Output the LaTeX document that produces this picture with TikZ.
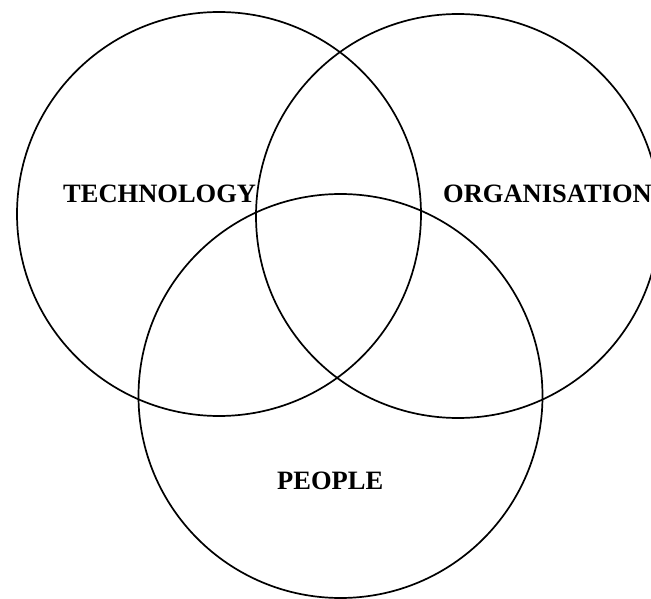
\documentclass[tikz,border=0pt]{standalone}
\usepackage{fontspec}
\setmainfont{Liberation Serif}
\begin{document}
\begin{tikzpicture}[x=1pt,y=-1pt,
  ring/.style={draw=black,line width=1.7pt},
  lbl/.style={anchor=base west,inner sep=0pt,font=\fontsize{26.5}{31}\selectfont\bfseries}]
\useasboundingbox (0,0) rectangle (651,599);
\clip (0,0) rectangle (651,599);
\draw[ring] (219,214) circle[radius=202];
\draw[ring] (458,216) circle[radius=202];
\draw[ring] (340.5,396) circle[radius=202];
\node[lbl] (tech) at (63,202) {TECHNOLOGY};
\node[lbl] (org) at (443,203) {ORGANISATION};
\node[lbl] (people) at (277,489) {PEOPLE};
\end{tikzpicture}
\end{document}
